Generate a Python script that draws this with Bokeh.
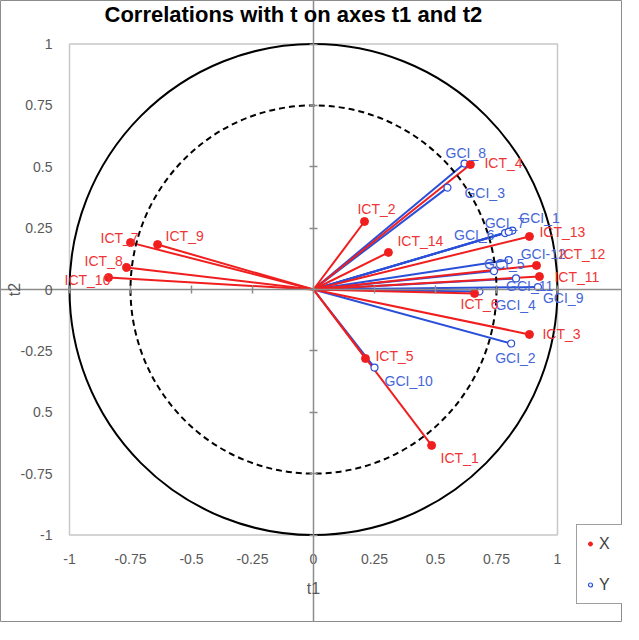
from bokeh.plotting import figure
from bokeh.models import (ColumnDataSource, Range1d, FixedTicker, LinearAxis, Legend,
                          LegendItem, LabelSet, Label)
from bokeh.embed import file_html
from bokeh.resources import INLINE
from bokeh.core.properties import value

# ---- data ----
x_names = ["ICT_1", "ICT_2", "ICT_3", "ICT_4", "ICT_5", "ICT_6", "ICT_7", "ICT_8",
           "ICT_9", "ICT_10", "ICT_11", "ICT_12", "ICT_13", "ICT_14"]
x_t1 = [0.484, 0.209, 0.885, 0.643, 0.213, 0.660, -0.750, -0.766,
        -0.639, -0.840, 0.926, 0.914, 0.885, 0.307]
x_t2 = [-0.635, 0.277, -0.183, 0.509, -0.281, -0.016, 0.191, 0.090,
        0.183, 0.049, 0.053, 0.098, 0.216, 0.151]

y_names = ["GCI_1", "GCI_2", "GCI_3", "GCI_4", "GCI_5", "GCI_6", "GCI_7", "GCI_8",
           "GCI_9", "GCI_10", "GCI_11", "GCI-12"]
y_t1 = [0.815, 0.810, 0.549, 0.680, 0.740, 0.785, 0.800, 0.619,
        0.920, 0.250, 0.830, 0.800]
y_t2 = [0.240, -0.220, 0.415, -0.008, 0.075, 0.230, 0.235, 0.513,
        0.010, -0.318, 0.045, 0.120]

tick_values = [-1, -0.75, -0.5, -0.25, 0, 0.25, 0.5, 0.75, 1]
x_tick_labels = ["-1", "-0.75", "-0.5", "-0.25", "0", "0.25", "0.5", "0.75", "1"]
y_tick_labels = ["-1", "-0.75", "0.5", "-0.25", "0", "0.25", "0.5", "0.75", "1"]

# label placement offsets in screen pixels (dx right, dy down) - style, not data
x_label_dx = [9, -7, 13, 14, 10, -14, -30, -42, 8, -44, 15, 23, 10, 9]
x_label_dy = [13, -12, 0, -2, -2, 11, -5, -6, -9, 3, 1, -11, -4, -11]
y_label_dx = [7, -16, 17, 16, -10, -51, -24, -19, 5, 10, -10, 12]
y_label_dy = [-13, 14, 5, 14, -7, 2, -9, -11, 11, 13, 8, -6]

RED = "#f01e1e"
RED_T = "#ee3434"
BLUE = "#2a4fd8"
BLUE_T = "#4466d8"
GRAY = "#595959"
AXG = "#8c8c8c"
FONT = "Liberation Sans"

W, H = 622, 622
LO, HI = tick_values[0], tick_values[-1]

# the frame covers the whole figure; the [-1, 1] box sits inside it
p = figure(width=W, height=H, x_range=Range1d(-1.2828, 1.2664), y_range=Range1d(-1.3564, 1.1772),
           output_backend="svg", toolbar_location=None,
           x_axis_location=None, y_axis_location=None,
           min_border_left=0, min_border_right=0, min_border_top=0, min_border_bottom=0)
p.title.visible = False
p.grid.visible = False
p.outline_line_color = AXG
p.outline_line_width = 1


def make_axis(loc, labels, show_labels, standoff=0):
    ax = LinearAxis(fixed_location=loc, ticker=FixedTicker(ticks=tick_values))
    ax.major_label_overrides = {v: s for v, s in zip(tick_values, labels)}
    ax.minor_tick_line_color = None
    ax.major_label_text_font = FONT
    ax.major_label_text_font_size = "14px"
    ax.major_label_text_color = GRAY
    ax.major_label_standoff = standoff
    if show_labels:
        ax.axis_line_color = None
        ax.major_tick_line_color = None
        ax.major_tick_in = 0
        ax.major_tick_out = 0
    else:
        ax.axis_line_color = AXG
        ax.axis_line_width = 1.5
        ax.major_tick_line_color = AXG
        ax.major_tick_line_width = 1.5
        ax.major_tick_in = 4
        ax.major_tick_out = 4
        ax.major_label_text_alpha = 0
    return ax


# plot-area border
p.quad(left=LO, right=HI, bottom=LO, top=HI, fill_color=None, line_color="#c8c8c8", line_width=1.5)

# tick-label axes along the lower/left edge of the [-1, 1] box
p.add_layout(make_axis(LO, x_tick_labels, True, 19), "below")
p.add_layout(make_axis(LO, y_tick_labels, True, 17), "left")

xs = ColumnDataSource(dict(name=x_names, t1=x_t1, t2=x_t2, dx=x_label_dx,
                           ndy=[-d for d in x_label_dy]))
ys = ColumnDataSource(dict(name=y_names, t1=y_t1, t2=y_t2, dx=y_label_dx,
                           ndy=[-d for d in y_label_dy]))

p.segment(x0=0, y0=0, x1="t1", y1="t2", source=ys, line_color=BLUE, line_width=2)
p.segment(x0=0, y0=0, x1="t1", y1="t2", source=xs, line_color=RED, line_width=2)

# correlation circles
p.ellipse(x=0, y=0, width=2, height=2, fill_color=None, line_color="black", line_width=2)
p.ellipse(x=0, y=0, width=1.5, height=1.5, fill_color=None, line_color="black",
          line_width=2, line_dash="6 4")

# axes crossing at the origin (ticks only)
p.add_layout(make_axis(0, x_tick_labels, False), "below")
p.add_layout(make_axis(0, y_tick_labels, False), "left")

ry = p.scatter(x="t1", y="t2", source=ys, size=7, marker="circle",
               fill_color="white", line_color=BLUE, line_width=1.2)
rx = p.scatter(x="t1", y="t2", source=xs, size=8, marker="circle",
               fill_color=RED, line_color=RED)

p.add_layout(LabelSet(x="t1", y="t2", text="name", source=ys, x_offset="dx", y_offset="ndy",
                      text_font=value(FONT), text_font_size="14px", text_color=BLUE_T,
                      text_align="left", text_baseline="middle"))
p.add_layout(LabelSet(x="t1", y="t2", text="name", source=xs, x_offset="dx", y_offset="ndy",
                      text_font=value(FONT), text_font_size="14px", text_color=RED_T,
                      text_align="left", text_baseline="middle"))

# title and axis titles
p.add_layout(Label(x=104, y=H - 14, x_units="screen", y_units="screen",
                   text="Correlations with t on axes t1 and t2", text_font=FONT,
                   text_font_size="22px", text_font_style="bold", text_color="#000000",
                   text_align="left", text_baseline="middle"))
p.add_layout(Label(x=313, y=H - 588, x_units="screen", y_units="screen", text="t1",
                   text_font=FONT, text_font_size="16px", text_color=GRAY,
                   text_align="center", text_baseline="middle"))
p.add_layout(Label(x=14, y=H - 289, x_units="screen", y_units="screen", text="t2",
                   angle=1.5708, text_font=FONT, text_font_size="16px", text_color=GRAY,
                   text_align="center", text_baseline="middle"))

legend = Legend(items=[LegendItem(label="X", renderers=[rx]),
                       LegendItem(label="Y", renderers=[ry])],
                location=(576, 18))
legend.border_line_color = "#404040"
legend.border_line_width = 1.2
legend.background_fill_color = "white"
legend.background_fill_alpha = 1
legend.padding = 8
legend.margin = 0
legend.spacing = 20
legend.glyph_height = 21
legend.glyph_width = 10
legend.label_standoff = 4
legend.label_text_font = FONT
legend.label_text_font_size = "16px"
legend.label_text_color = "#404040"
p.add_layout(legend)

open("out.html", "w").write(file_html(p, INLINE))
